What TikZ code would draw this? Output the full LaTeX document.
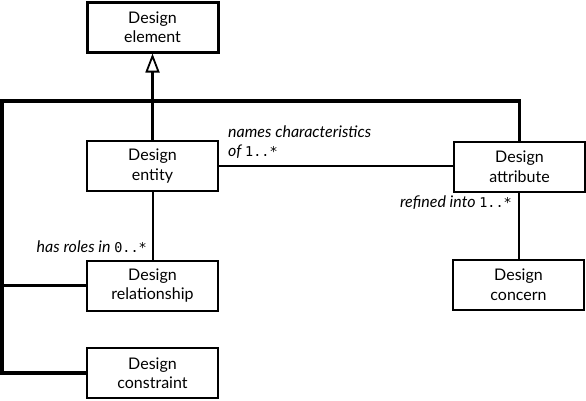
\documentclass[tikz,border=0pt]{standalone}
\usepackage{fontspec}
\setmainfont{Lato}
\setmonofont{DejaVu Sans Mono}
\usetikzlibrary{arrows.meta}
\newcommand{\mult}[1]{{\upshape\ttfamily\fontsize{13.5}{19}\selectfont #1}}
\begin{document}
\begin{tikzpicture}[x=1pt,y=-1pt,
  box/.style={draw, line width=2pt, minimum width=131pt, minimum height=50pt, align=center, inner sep=0pt, font=\fontsize{16}{19.5}\selectfont},
  thickbox/.style={box, line width=3pt},
  thin/.style={line width=2pt},
  heavy/.style={line width=3.2pt},
  lbl/.style={font=\fontsize{16}{19}\selectfont\itshape, inner sep=0pt, align=left}]
\useasboundingbox (0,0) rectangle (586,400);
\node[thickbox] (elem) at (152.5,27) {Design\\element};
\node[box] (ent) at (152.5,166) {Design\\entity};
\node[box] (attr) at (519.5,166.5) {Design\\attribute};
\node[box] (rel) at (152.5,285.5) {Design\\relationship};
\node[box] (con) at (152.5,373) {Design\\constraint};
\node[box] (conc) at (518.5,284.5) {Design\\concern};
\coordinate (jt) at (152.5,101);
\coordinate (jl) at (2,101);
\coordinate (jr) at (519.5,101);
\coordinate (bl) at (2,373);
\coordinate (ml) at (2,285.5);
% generalisation
\draw[heavy, -{Triangle[open, length=19pt, width=14pt, line width=1.8pt]}] (ent.north) -- (elem.south);
\draw[heavy, line join=miter] (attr.north) |- (jl) -- (bl) -- (con.west);
\draw[heavy] (ml) -- (rel.west);
% associations
\draw[thin] (ent.east) -- (ent.east -| attr.west);
\draw[thin] (ent.south) -- (rel.north);
\draw[thin] (attr.south -| conc.north) -- (conc.north);
\node[lbl, anchor=west] (l1) at (228,142) {names characteristics\\of \mult{1..*}};
\node[lbl, anchor=east] (l2) at (147,247) {has roles in \mult{0..*}};
\node[lbl, anchor=east] (l3) at (512,203) {refined into \mult{1..*}};
\end{tikzpicture}
\end{document}
